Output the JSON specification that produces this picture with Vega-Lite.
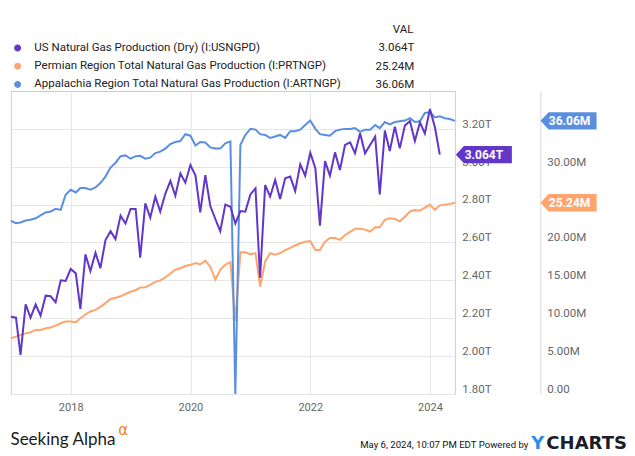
{
  "$schema": "https://vega.github.io/schema/vega-lite/v6.json",
  "width": 444,
  "height": 303,
  "autosize": {"type": "none"},
  "padding": {"left": 10.87, "top": 91, "right": 180.13, "bottom": 62},
  "background": "white",
  "config": {
    "font": "Roboto",
    "view": {"stroke": "#cccccc"},
    "axis": {"labelOverlap": false, "labelFlush": false}
  },
  "datasets": {
    "badges": [
      {"id": "us", "label": "3.064T", "value": 3.064},
      {"id": "prt", "label": "25.24M", "value": 25.24},
      {"id": "art", "label": "36.06M", "value": 36.06}
    ],
    "monthly": [
      {"d": "2017-01-01", "us": 2.208, "prt": 7.36, "art": 22.86},
      {"d": "2017-02-01", "us": 2.203, "prt": 7.58, "art": 22.55},
      {"d": "2017-03-01", "us": 2.006, "prt": 7.80, "art": 22.64},
      {"d": "2017-04-01", "us": 2.273, "prt": 8.00, "art": 22.9},
      {"d": "2017-05-01", "us": 2.203, "prt": 8.15, "art": 23.0},
      {"d": "2017-06-01", "us": 2.273, "prt": 8.46, "art": 23.2},
      {"d": "2017-07-01", "us": 2.214, "prt": 8.46, "art": 23.57},
      {"d": "2017-08-01", "us": 2.319, "prt": 8.68, "art": 23.96},
      {"d": "2017-09-01", "us": 2.316, "prt": 8.77, "art": 24.1},
      {"d": "2017-10-01", "us": 2.284, "prt": 9.03, "art": 24.45},
      {"d": "2017-11-01", "us": 2.400, "prt": 9.34, "art": 24.3},
      {"d": "2017-12-01", "us": 2.397, "prt": 9.56, "art": 26.3},
      {"d": "2018-01-01", "us": 2.460, "prt": 9.56, "art": 26.96},
      {"d": "2018-02-01", "us": 2.437, "prt": 9.47, "art": 26.6},
      {"d": "2018-03-01", "us": 2.249, "prt": 10.0, "art": 27.2},
      {"d": "2018-04-01", "us": 2.537, "prt": 10.5, "art": 27.2},
      {"d": "2018-05-01", "us": 2.449, "prt": 10.9, "art": 26.96},
      {"d": "2018-06-01", "us": 2.546, "prt": 11.1, "art": 27.27},
      {"d": "2018-07-01", "us": 2.464, "prt": 11.5, "art": 27.84},
      {"d": "2018-08-01", "us": 2.613, "prt": 12.0, "art": 28.7},
      {"d": "2018-09-01", "us": 2.660, "prt": 12.55, "art": 29.9},
      {"d": "2018-10-01", "us": 2.618, "prt": 12.7, "art": 30.5},
      {"d": "2018-11-01", "us": 2.742, "prt": 12.9, "art": 31.4},
      {"d": "2018-12-01", "us": 2.700, "prt": 13.2, "art": 31.5},
      {"d": "2019-01-01", "us": 2.777, "prt": 13.5, "art": 31.06},
      {"d": "2019-02-01", "us": 2.777, "prt": 13.7, "art": 31.4},
      {"d": "2019-03-01", "us": 2.520, "prt": 14.05, "art": 31.45},
      {"d": "2019-04-01", "us": 2.807, "prt": 14.1, "art": 31.06},
      {"d": "2019-05-01", "us": 2.731, "prt": 14.4, "art": 31.2},
      {"d": "2019-06-01", "us": 2.842, "prt": 14.8, "art": 31.8},
      {"d": "2019-07-01", "us": 2.763, "prt": 15.0, "art": 32.0},
      {"d": "2019-08-01", "us": 2.857, "prt": 15.4, "art": 32.4},
      {"d": "2019-09-01", "us": 2.925, "prt": 15.9, "art": 33.0},
      {"d": "2019-10-01", "us": 2.847, "prt": 16.4, "art": 33.26},
      {"d": "2019-11-01", "us": 2.965, "prt": 16.6, "art": 33.4},
      {"d": "2019-12-01", "us": 2.916, "prt": 16.9, "art": 34.3},
      {"d": "2020-01-01", "us": 3.009, "prt": 17.05, "art": 34.1},
      {"d": "2020-02-01", "us": 2.953, "prt": 17.3, "art": 32.8},
      {"d": "2020-03-01", "us": 2.759, "prt": 17.1, "art": 33.26},
      {"d": "2020-04-01", "us": 2.956, "prt": 17.6, "art": 33.2},
      {"d": "2020-05-01", "us": 2.794, "prt": 16.8, "art": 32.55},
      {"d": "2020-06-01", "us": 2.724, "prt": 15.1, "art": 32.4},
      {"d": "2020-07-01", "us": 2.660, "prt": 16.4, "art": 32.4},
      {"d": "2020-08-01", "us": 2.800, "prt": 17.1, "art": 33.1},
      {"d": "2020-09-01", "us": 2.789, "prt": 17.4, "art": 33.35},
      {"d": "2020-10-01", "us": 2.700, "prt": 9.6, "art": 0},
      {"d": "2020-11-01", "us": 2.766, "prt": 18.7, "art": 32.9},
      {"d": "2020-12-01", "us": 2.763, "prt": 18.7, "art": 34.2},
      {"d": "2021-01-01", "us": 2.854, "prt": 18.45, "art": 35.0},
      {"d": "2021-02-01", "us": 2.886, "prt": 18.6, "art": 34.9},
      {"d": "2021-03-01", "us": 2.414, "prt": 14.2, "art": 34.3},
      {"d": "2021-04-01", "us": 2.904, "prt": 17.5, "art": 34.2},
      {"d": "2021-05-01", "us": 2.842, "prt": 18.6, "art": 33.8},
      {"d": "2021-06-01", "us": 2.930, "prt": 18.4, "art": 34.0},
      {"d": "2021-07-01", "us": 2.830, "prt": 18.6, "art": 34.2},
      {"d": "2021-08-01", "us": 2.939, "prt": 19.0, "art": 33.8},
      {"d": "2021-09-01", "us": 2.948, "prt": 19.3, "art": 34.7},
      {"d": "2021-10-01", "us": 2.872, "prt": 19.6, "art": 34.7},
      {"d": "2021-11-01", "us": 3.013, "prt": 19.9, "art": 34.9},
      {"d": "2021-12-01", "us": 2.953, "prt": 20.1, "art": 35.5},
      {"d": "2022-01-01", "us": 3.074, "prt": 20.2, "art": 36.1},
      {"d": "2022-02-01", "us": 2.992, "prt": 19.0, "art": 35.0},
      {"d": "2022-03-01", "us": 2.689, "prt": 19.0, "art": 34.3},
      {"d": "2022-04-01", "us": 3.030, "prt": 20.1, "art": 34.2},
      {"d": "2022-05-01", "us": 2.953, "prt": 20.6, "art": 34.1},
      {"d": "2022-06-01", "us": 3.076, "prt": 20.6, "art": 34.7},
      {"d": "2022-07-01", "us": 2.983, "prt": 20.35, "art": 34.9},
      {"d": "2022-08-01", "us": 3.115, "prt": 21.0, "art": 35.0},
      {"d": "2022-09-01", "us": 3.129, "prt": 21.4, "art": 35.0},
      {"d": "2022-10-01", "us": 3.071, "prt": 21.8, "art": 35.1},
      {"d": "2022-11-01", "us": 3.177, "prt": 21.8, "art": 34.6},
      {"d": "2022-12-01", "us": 3.071, "prt": 21.7, "art": 34.9},
      {"d": "2023-01-01", "us": 3.115, "prt": 21.45, "art": 34.9},
      {"d": "2023-02-01", "us": 3.159, "prt": 22.0, "art": 35.5},
      {"d": "2023-03-01", "us": 2.854, "prt": 22.0, "art": 35.1},
      {"d": "2023-04-01", "us": 3.191, "prt": 23.0, "art": 35.9},
      {"d": "2023-05-01", "us": 3.083, "prt": 23.2, "art": 35.6},
      {"d": "2023-06-01", "us": 3.212, "prt": 23.1, "art": 35.9},
      {"d": "2023-07-01", "us": 3.097, "prt": 22.8, "art": 36.0},
      {"d": "2023-08-01", "us": 3.217, "prt": 23.4, "art": 36.1},
      {"d": "2023-09-01", "us": 3.241, "prt": 24.1, "art": 36.4},
      {"d": "2023-10-01", "us": 3.136, "prt": 24.3, "art": 35.9},
      {"d": "2023-11-01", "us": 3.234, "prt": 24.2, "art": 36.0},
      {"d": "2023-12-01", "us": 3.176, "prt": 24.6, "art": 37.1},
      {"d": "2024-01-01", "us": 3.305, "prt": 24.98, "art": 37.2},
      {"d": "2024-02-01", "us": 3.206, "prt": 24.3, "art": 36.5},
      {"d": "2024-03-01", "us": 3.064, "prt": 24.9, "art": 36.65},
      {"d": "2024-04-01", "us": null, "prt": 25.0, "art": 36.4},
      {"d": "2024-05-01", "us": null, "prt": 25.1, "art": 36.3},
      {"d": "2024-06-01", "us": null, "prt": 25.24, "art": 36.06}
    ]
  },
  "resolve": {
    "scale": {"y": "independent"},
    "axis": {"x": "independent", "y": "independent"}
  },
  "layer": [
    {
      "data": {"name": "monthly"},
      "transform": [{"fold": ["prt", "art"], "as": ["id", "value"]}],
      "mark": {"type": "line", "strokeWidth": 2},
      "encoding": {
        "x": {
          "field": "d", "type": "temporal",
          "scale": {"type": "utc", "domain": [{"year": 2017, "month": 1, "date": 1, "utc": true}, {"year": 2024, "month": 6, "date": 1, "utc": true}]},
          "axis": {
            "orient": "bottom",
            "values": [{"year": 2018, "utc": true}, {"year": 2020, "utc": true}, {"year": 2022, "utc": true}, {"year": 2024, "utc": true}],
            "format": "%Y", "grid": true, "gridColor": "#e6e6e6", "ticks": false, "domain": false,
            "labelColor": "#666666", "labelFontSize": 11, "labelPadding": 7,
            "title": "May 6, 2024, 10:07 PM EDT Powered by",
            "titleX": 517, "titleY": 53, "titleAlign": "right", "titleBaseline": "alphabetic",
            "titleFontSize": 9.6, "titleFontWeight": "normal", "titleColor": "#111111", "titleFont": "Roboto"
          }
        },
        "y": {
          "field": "value", "type": "quantitative",
          "scale": {"domain": [0, 40], "nice": false, "zero": false},
          "axis": {
            "orient": "right", "offset": 85.5, "values": [0, 5, 10, 15, 20, 25, 30, 35],
            "labelExpr": "datum.value == 0 ? '0.00' : format(datum.value, '.2f') + 'M'",
            "grid": false, "ticks": false, "domain": true, "domainColor": "#d9d9d9",
            "labelPadding": 6.5, "labelAlign": "left", "labelBaseline": "alphabetic", "labelOffset": -1.7,
            "labelColor": "#666666", "labelFontSize": 11.5,
            "title": "CHARTS", "titleAngle": 0, "titleX": 5.5, "titleY": 357,
            "titleAlign": "left", "titleBaseline": "alphabetic",
            "titleFont": "DejaVu Sans", "titleFontWeight": "bold", "titleFontSize": 18, "titleColor": "#1d1d2b"
          }
        },
        "color": {
          "field": "id", "type": "nominal",
          "scale": {"domain": ["us", "prt", "art"], "range": ["#6236c8", "#ffa46c", "#5a8fe0"]},
          "legend": {
            "orient": "none", "legendX": 1, "legendY": -48.75, "title": null, "padding": 0,
            "rowPadding": 0.2, "symbolType": "circle", "symbolSize": 12, "symbolStrokeWidth": 3.5,
            "labelFontSize": 11.5, "labelColor": "#222222", "labelOffset": 11, "labelLimit": 500,
            "labelExpr": "datum.label == 'us' ? 'US Natural Gas Production (Dry) (I:USNGPD)' : datum.label == 'prt' ? 'Permian Region Total Natural Gas Production (I:PRTNGP)' : 'Appalachia Region Total Natural Gas Production (I:ARTNGP)'"
          }
        }
      }
    },
    {
      "encoding": {
        "y": {
          "field": "value", "type": "quantitative",
          "scale": {"domain": [1.8, 3.4], "nice": false, "zero": false},
          "axis": {
            "orient": "right", "values": [1.8, 2.0, 2.2, 2.4, 2.6, 2.8, 3.0, 3.2],
            "labelExpr": "format(datum.value, '.2f') + 'T'",
            "grid": true, "gridColor": "#e6e6e6", "ticks": false, "domain": false,
            "labelPadding": 7, "labelAlign": "left", "labelBaseline": "alphabetic", "labelOffset": -1.7,
            "labelColor": "#666666", "labelFontSize": 11.5,
            "title": "Y", "titleAngle": 0, "titleX": 76, "titleY": 357,
            "titleAlign": "left", "titleBaseline": "alphabetic",
            "titleFont": "DejaVu Sans", "titleFontWeight": "bold", "titleFontSize": 18, "titleColor": "#2a8fe8"
          }
        }
      },
      "layer": [
        {
          "data": {"name": "monthly"},
          "transform": [{"fold": ["us"], "as": ["id", "value"]}, {"filter": "isValid(datum.value)"}],
          "mark": {"type": "line", "strokeWidth": 2},
          "encoding": {
            "x": {"field": "d", "type": "temporal", "axis": {"orient": "bottom", "labels": false, "grid": false, "ticks": false, "domain": false, "title": "Seeking Alpha", "titleX": -0.9, "titleY": 50, "titleAlign": "left", "titleBaseline": "alphabetic", "titleFont": "Lato", "titleFontSize": 17, "titleFontWeight": "normal", "titleColor": "#1a1a1a"}},
            "color": {"field": "id", "type": "nominal"}
          }
        },
        {
          "data": {"name": "badges"},
          "transform": [{"filter": "datum.id == 'us'"}],
          "mark": {"type": "point", "shape": "M0,0L0.2667,-0.29L1.8667,-0.29L1.8667,0.29L0.2667,0.29Z", "size": 3600, "filled": true, "opacity": 1, "strokeWidth": 0, "xOffset": 1},
          "encoding": {
            "x": {"datum": {"year": 2024, "month": 6, "date": 1, "utc": true}, "type": "temporal", "axis": {"orient": "bottom", "labels": false, "grid": false, "ticks": false, "domain": false, "title": "Seeking Alpha", "titleX": -0.9, "titleY": 50, "titleAlign": "left", "titleBaseline": "alphabetic", "titleFont": "Lato", "titleFontSize": 17, "titleFontWeight": "normal", "titleColor": "#1a1a1a"}},
            "color": {"field": "id", "type": "nominal"}
          }
        },
        {
          "data": {"name": "badges"},
          "transform": [{"filter": "datum.id == 'us'"}],
          "mark": {"type": "text", "dx": 29, "dy": 0.5, "color": "white", "fontWeight": "bold", "fontSize": 12, "align": "center", "baseline": "middle"},
          "encoding": {
            "x": {"datum": {"year": 2024, "month": 6, "date": 1, "utc": true}, "type": "temporal", "axis": {"orient": "bottom", "labels": false, "grid": false, "ticks": false, "domain": false, "title": "Seeking Alpha", "titleX": -0.9, "titleY": 50, "titleAlign": "left", "titleBaseline": "alphabetic", "titleFont": "Lato", "titleFontSize": 17, "titleFontWeight": "normal", "titleColor": "#1a1a1a"}},
            "text": {"field": "label"},
            "opacity": {
              "field": "label", "type": "ordinal",
              "scale": {"domain": ["3.064T", "25.24M", "36.06M"], "range": [1, 1, 1]},
              "legend": {
                "orient": "none", "legendX": 392, "legendY": -48.75, "title": null, "padding": 0,
                "rowPadding": 5.7, "labelAlign": "right", "labelFontSize": 11.5, "labelColor": "#222222", "labelOffset": 0,
                "symbolSize": 0, "symbolOpacity": 0, "symbolStrokeWidth": 0
              }
            }
          }
        }
      ]
    },
    {
      "data": {"name": "badges"},
      "transform": [{"filter": "datum.id != 'us'"}],
      "encoding": {
        "x": {"datum": {"year": 2024, "month": 6, "date": 1, "utc": true}, "type": "temporal", "axis": {"orient": "bottom", "labels": false, "grid": false, "ticks": false, "domain": false, "title": "α", "titleX": 107, "titleY": 40, "titleAlign": "left", "titleBaseline": "alphabetic", "titleFont": "DejaVu Sans", "titleFontSize": 15, "titleFontWeight": "normal", "titleColor": "#f5821f"}},
        "y": {"field": "value", "type": "quantitative", "scale": {"domain": [0, 40], "nice": false, "zero": false},
          "axis": {"orient": "right", "labels": false, "grid": false, "ticks": false, "domain": false, "title": "VAL", "titleAngle": 0, "titleX": -42, "titleY": -59, "titleAlign": "right", "titleBaseline": "alphabetic", "titleFont": "Roboto", "titleFontSize": 11.5, "titleFontWeight": "normal", "titleColor": "#222222"}}
      },
      "layer": [
        {
          "mark": {"type": "point", "shape": "M0,0L0.2667,-0.29L1.8667,-0.29L1.8667,0.29L0.2667,0.29Z", "size": 3600, "filled": true, "opacity": 1, "strokeWidth": 0, "xOffset": 85.7},
          "encoding": {"color": {"field": "id", "type": "nominal"}}
        },
        {
          "mark": {"type": "text", "dx": 114.7, "dy": 0.5, "color": "white", "fontWeight": "bold", "fontSize": 12, "align": "center", "baseline": "middle"},
          "encoding": {
            "text": {"field": "label"},
            "opacity": {
              "field": "label", "type": "ordinal",
              "scale": {"domain": ["3.064T", "25.24M", "36.06M"], "range": [1, 1, 1]},
              "legend": {
                "orient": "none", "legendX": 392, "legendY": -48.75, "title": null, "padding": 0,
                "rowPadding": 5.7, "labelAlign": "right", "labelFontSize": 11.5, "labelColor": "#222222", "labelOffset": 0,
                "symbolSize": 0, "symbolOpacity": 0, "symbolStrokeWidth": 0
              }
            }
          }
        }
      ]
    }
  ]
}
